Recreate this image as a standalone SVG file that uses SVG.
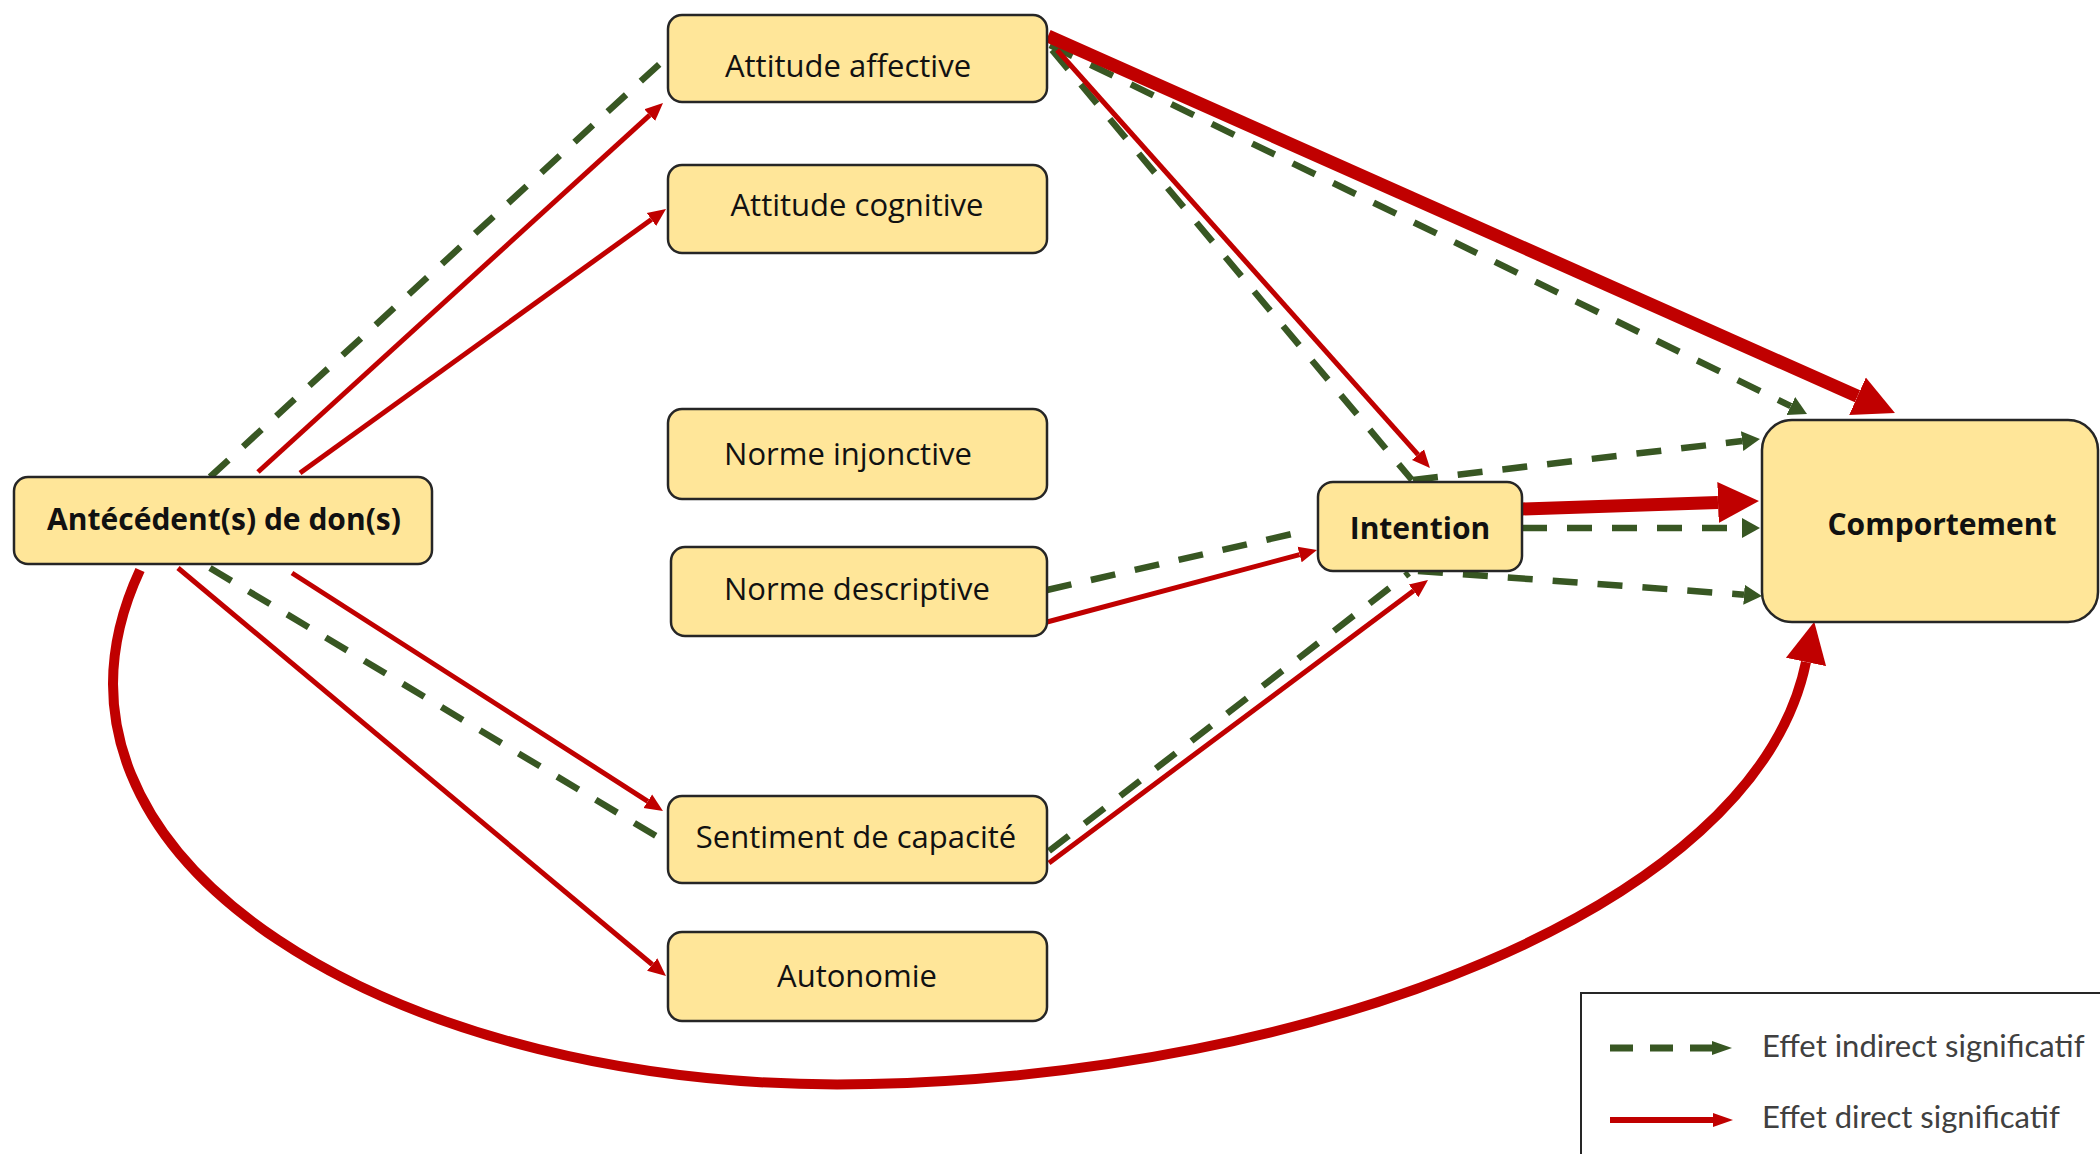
<svg xmlns="http://www.w3.org/2000/svg" width="2100" height="1154" viewBox="0 0 2100 1154">
<style>
.node rect{fill:#FFE699;stroke:#262626;stroke-width:2.5}
.node text{font-family:"Open Sans","Liberation Sans",sans-serif;font-size:31px;fill:#111;text-anchor:middle}
.node text.b{font-weight:bold;font-size:30px}
.g{fill:none;stroke:#385723;stroke-width:6.5;stroke-dasharray:25 20}
.r{fill:none;stroke:#C00000;stroke-width:5}
.R{fill:none;stroke:#C00000;stroke-width:13}
.legend text{font-family:Lato,"Liberation Sans",sans-serif;font-size:31px;fill:#404040}
</style>
<defs>
<marker id="mg" markerUnits="userSpaceOnUse" markerWidth="20" markerHeight="22" viewBox="0 -11 20 22" refX="0" refY="0" orient="auto"><path d="M0,-10 L18,0 L0,10 z" fill="#385723"/></marker>
<marker id="mr" markerUnits="userSpaceOnUse" markerWidth="20" markerHeight="20" viewBox="0 -10 20 20" refX="0" refY="0" orient="auto"><path d="M0,-8 L18,0 L0,8 z" fill="#C00000"/></marker>
<marker id="mR" markerUnits="userSpaceOnUse" markerWidth="44" markerHeight="44" viewBox="0 -22 44 44" refX="0" refY="0" orient="auto"><path d="M0,-20.5 L41,0 L0,20.5 z" fill="#C00000"/></marker>
<marker id="mL" markerUnits="userSpaceOnUse" markerWidth="22" markerHeight="16" viewBox="0 -8 22 16" refX="0" refY="0" orient="auto"><path d="M0,-7 L20,0 L0,7 z" fill="#385723"/></marker>
<marker id="mLr" markerUnits="userSpaceOnUse" markerWidth="22" markerHeight="16" viewBox="0 -8 22 16" refX="0" refY="0" orient="auto"><path d="M0,-7 L20,0 L0,7 z" fill="#C00000"/></marker>
</defs>
<g id="connectors">
<path class="g" d="M210,477 L665,59"/>
<path class="g" d="M210,568 L666,842"/>
<path class="g" d="M1050,45 L1790.8,406.1" marker-end="url(#mg)"/>
<path class="g" d="M1052,50 L1412,480"/>
<path class="g" d="M1413,480 L1742.1,441.1" marker-end="url(#mg)"/>
<path class="g" d="M1522,528 L1742,528" marker-end="url(#mg)"/>
<path class="g" d="M1418,571 L1744,594.7" marker-end="url(#mg)"/>
<path class="g" d="M1047,590 L1305,531"/>
<path class="g" d="M1049,851 L1409,573"/>
<path class="r" d="M258,472 L649.7,115.1" marker-end="url(#mr)"/>
<path class="r" d="M300,473 L651.4,219.5" marker-end="url(#mr)"/>
<path class="r" d="M292,573 L647.8,801.3" marker-end="url(#mr)"/>
<path class="r" d="M178,568 L652.2,964.5" marker-end="url(#mr)"/>
<path class="r" d="M1057,50 L1418,454.6" marker-end="url(#mr)"/>
<path class="r" d="M1047,622 L1299.6,554.6" marker-end="url(#mr)"/>
<path class="r" d="M1049,863 L1413.6,590.8" marker-end="url(#mr)"/>
<path class="R" d="M1048,36 L1857.5,396.3" marker-end="url(#mR)"/>
<path class="R" d="M1522,509 L1718,502.4" marker-end="url(#mR)"/>
<path class="R" style="stroke-width:10" d="M140,570 C5,860 400,1095 870,1084 C1310,1075 1755,910 1806,662" marker-end="url(#mR)"/>
</g>
<g id="antecedent" class="node"><rect x="14" y="477" width="418" height="87" rx="14"/><text class="b" x="224" y="530">Antécédent(s) de don(s)</text></g>
<g id="attitude-affective" class="node"><rect x="668" y="15" width="379" height="87" rx="14"/><text x="848" y="77">Attitude affective</text></g>
<g id="attitude-cognitive" class="node"><rect x="668" y="165" width="379" height="88" rx="14"/><text x="857" y="216">Attitude cognitive</text></g>
<g id="norme-injonctive" class="node"><rect x="668" y="409" width="379" height="90" rx="14"/><text x="848" y="465">Norme injonctive</text></g>
<g id="norme-descriptive" class="node"><rect x="671" y="547" width="376" height="89" rx="14"/><text x="857" y="600">Norme descriptive</text></g>
<g id="sentiment-capacite" class="node"><rect x="668" y="796" width="379" height="87" rx="14"/><text x="856" y="848">Sentiment de capacité</text></g>
<g id="autonomie" class="node"><rect x="668" y="932" width="379" height="89" rx="14"/><text x="857" y="987">Autonomie</text></g>
<g id="intention" class="node"><rect x="1318" y="482" width="204" height="89" rx="15"/><text class="b" x="1420" y="539">Intention</text></g>
<g id="comportement" class="node"><rect x="1762" y="420" width="336" height="202" rx="30"/><text class="b" x="1942" y="535">Comportement</text></g>
<g id="legend" class="legend">
<rect x="1581" y="993" width="560" height="220" fill="#fff" stroke="#262626" stroke-width="2"/>
<path d="M1610,1048 L1712,1048" fill="none" stroke="#385723" stroke-width="7" stroke-dasharray="23 17" marker-end="url(#mL)"/>
<path d="M1610,1120 L1713,1120" fill="none" stroke="#C00000" stroke-width="6" marker-end="url(#mLr)"/>
<text x="1762" y="1057">Effet indirect significatif</text>
<text x="1762" y="1128">Effet direct significatif</text>
</g>
</svg>
